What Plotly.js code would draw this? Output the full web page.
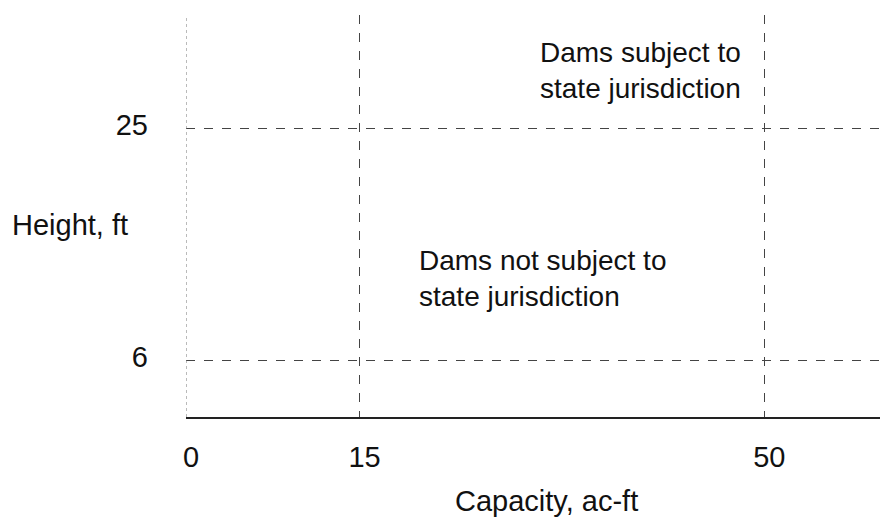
<!DOCTYPE html>
<html>
<head>
<meta charset="utf-8">
<script src="https://cdn.plot.ly/plotly-3.0.1.min.js"></script>
<style>html,body{margin:0;padding:0;background:#fff;}#chart{width:881px;height:518px;}</style>
</head>
<body>
<div id="chart"></div>
<script>
// Threshold values (axis ticks / reference lines)
const capacityTicks = [0, 15, 50];
const capacityTickText = ["0", "15", "50"];
const heightTicks = [6, 25];
const heightTickText = ["6", "25"];
const xTitle = "Capacity, ac-ft";
const yTitle = "Height, ft";
const regionLabels = ["Dams subject to<br>state jurisdiction", "Dams not subject to<br>state jurisdiction"];

const FONT = "Liberation Sans, Arial, Helvetica, sans-serif";

const layout = {
  width: 881,
  height: 518,
  margin: {l: 186, r: 1, t: 15, b: 101},
  paper_bgcolor: "#ffffff",
  plot_bgcolor: "#ffffff",
  showlegend: false,
  font: {family: FONT, color: "#111", size: 28},
  xaxis: {
    range: [0, 60],
    tickmode: "array",
    tickvals: capacityTicks,
    ticktext: capacityTickText,
    showgrid: true,
    gridcolor: "#444",
    griddash: "dash",
    gridwidth: 1,
    zeroline: false,
    showline: true,
    linecolor: "#222",
    linewidth: 1.5,
    ticks: "",
    ticklabelstandoff: 14,
    ticklabelshift: 5,
    tickfont: {family: FONT, size: 29, color: "#111"},
    fixedrange: true
  },
  yaxis: {
    range: [1.36, 34.25],
    tickmode: "array",
    tickvals: heightTicks,
    ticktext: heightTickText,
    showgrid: true,
    gridcolor: "#444",
    griddash: "dash",
    gridwidth: 1,
    zeroline: false,
    showline: false,
    ticks: "",
    ticklabelstandoff: 37,
    ticklabelshift: -3,
    tickfont: {family: FONT, size: 29, color: "#111"},
    fixedrange: true
  },
  annotations: [
    {text: regionLabels[0], xref: "x", yref: "y", x: 48.15, y: 29.7,
     xanchor: "right", yanchor: "middle", align: "left", showarrow: false,
     font: {family: FONT, size: 28, color: "#111"}},
    {text: regionLabels[1], xref: "x", yref: "y", x: 20.0, y: 12.7,
     xanchor: "left", yanchor: "middle", align: "left", showarrow: false,
     font: {family: FONT, size: 28, color: "#111"}},
    {text: yTitle, xref: "paper", yref: "paper", x: -0.253, y: 0.4776,
     xanchor: "left", yanchor: "middle", showarrow: false,
     font: {family: FONT, size: 29, color: "#111"}},
    {text: xTitle, xref: "paper", yref: "paper", x: 0.519, y: -0.21,
     xanchor: "center", yanchor: "middle", showarrow: false,
     font: {family: FONT, size: 29, color: "#111"}}
  ]
};

// Vertical y-axis line drawn at capacity 0 over the height range
const data = [
  {x: [capacityTicks[0], capacityTicks[0]], y: [1.36, 34.25], mode: "lines",
   line: {color: "#777", width: 1, dash: "dot"}, hoverinfo: "skip"}
];

Plotly.newPlot("chart", data, layout, {displayModeBar: false, staticPlot: true});
</script>
</body>
</html>
